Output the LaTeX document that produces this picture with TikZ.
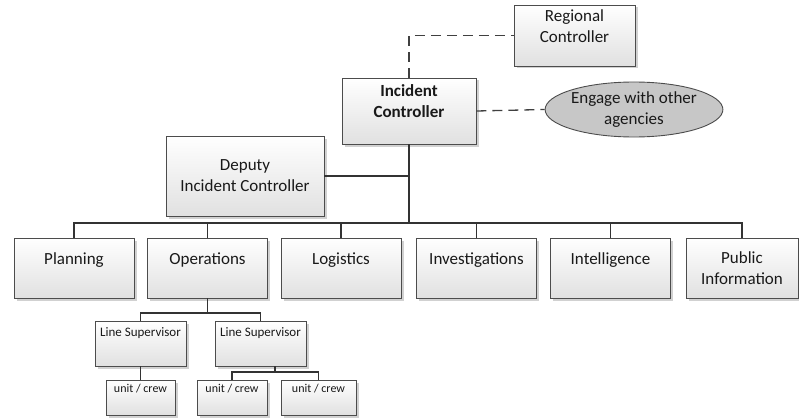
\documentclass[tikz,border=0pt]{standalone}
\usepackage{fontspec}
\setmainfont{Carlito}
\usetikzlibrary{shapes.geometric,shadows}

\begin{document}
\begin{tikzpicture}[x=1pt,y=-1pt,
	box/.style={draw=black!70,line width=0.9pt,top color=white,bottom color=black!12,
		drop shadow={fill=black!40,opacity=0.45,shadow xshift=2.5pt,shadow yshift=-2.5pt},
		align=center,text=black!90,font=\fontsize{17}{21}\selectfont,inner sep=2pt},
	unitbox/.style={box,font=\fontsize{13}{15}\selectfont},
	link/.style={draw=black!80,line width=1.6pt},
	dashlink/.style={draw=black!75,line width=1.3pt,dash pattern=on 10pt off 6pt}]
%
	\useasboundingbox (0,0) rectangle (799,417);
%
	\node[box,minimum width=121,minimum height=61,text depth=18pt] (reg) at (574.5,35.5) {Regional\\Controller};
	\node[box,minimum width=134,minimum height=66,text depth=19pt,font=\fontsize{17}{21}\selectfont\bfseries] (ic) at (409,111) {Incident\\Controller};
	\node[ellipse,draw=black!70,line width=0.9pt,fill=black!22,minimum width=174,minimum height=55,inner sep=0pt,
		align=center,text=black!90,font=\fontsize{17}{21}\selectfont] (eng) at (634,109.5) {Engage with other\\agencies};
	\node[box,minimum width=158,minimum height=80] (dep) at (245,176) {Deputy\\Incident Controller};
%
	\node[box,minimum width=120,minimum height=60,text depth=18pt] (plan) at (74,268) {Planning};
	\node[box,minimum width=120,minimum height=60,text depth=18pt] (ops) at (207.5,268) {Operations};
	\node[box,minimum width=120,minimum height=60,text depth=18pt] (log) at (341,268) {Logistics};
	\node[box,minimum width=120,minimum height=60,text depth=18pt] (inv) at (476.5,268) {Investigations};
	\node[box,minimum width=120,minimum height=60,text depth=18pt] (intel) at (610.5,268) {Intelligence};
	\node[box,minimum width=112,minimum height=60] (pub) at (742,268) {Public\\Information};
%
	\node[unitbox,minimum width=91,minimum height=45,text depth=22pt] (ls1) at (140.5,343.5) {Line Supervisor};
	\node[unitbox,minimum width=91,minimum height=45,text depth=22pt] (ls2) at (260.5,343.5) {Line Supervisor};
	\node[unitbox,minimum width=69,minimum height=35,text depth=19pt,font=\fontsize{12}{14}\selectfont] (u1) at (140.5,397.5) {unit / crew};
	\node[unitbox,minimum width=70,minimum height=35,text depth=19pt,font=\fontsize{12}{14}\selectfont] (u2) at (232,397.5) {unit / crew};
	\node[unitbox,minimum width=75,minimum height=35,text depth=19pt,font=\fontsize{12}{14}\selectfont] (u3) at (318.5,397.5) {unit / crew};
%
	\coordinate (bus) at (409,223);
	\coordinate (opsbus) at (207.5,313);
	\coordinate (lsbus) at (275,372);
%
	\draw[dashlink] (ic.north) |- (reg.west);
	\draw[dashlink] (ic.east) -- (eng.west);
	\draw[link] (ic.south) -- (bus);
	\draw[link] (dep.east) -- (dep.east -| ic.south);
	\draw[link] (plan.north) |- (bus) -| (pub.north);
	\foreach \n in {ops,log,inv,intel}
		\draw[link] (\n.north) -- (\n.north |- bus);
%
	\draw[link] (ops.south) -- (opsbus);
	\draw[link] (ls1.north) |- (opsbus) -| (ls2.north);
	\draw[link] (ls1.south) -- (u1.north);
	\draw[link] (lsbus |- ls2.south) -- (lsbus);
	\draw[link] (u2.north) |- (lsbus) -| (u3.north);
\end{tikzpicture}
\end{document}
